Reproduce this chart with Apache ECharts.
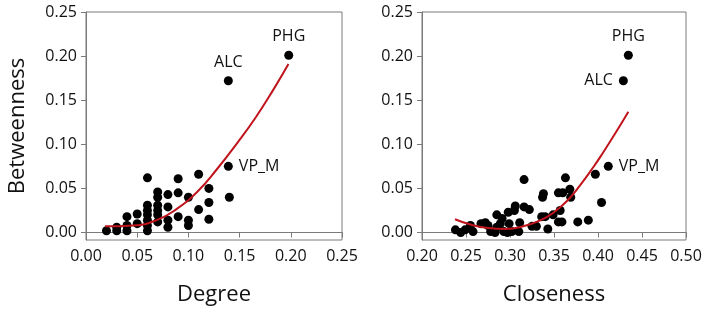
<!DOCTYPE html>
<html>
<head>
<meta charset="utf-8">
<script src="https://cdn.jsdelivr.net/npm/echarts@6/dist/echarts.min.js"></script>
<style>
html,body{margin:0;padding:0;background:#fff;}
#chart{width:709px;height:313px;}
</style>
</head>
<body>
<div id="chart"></div>
<script>
// ---- Data ----
const yTicks = [0, 0.05, 0.10, 0.15, 0.20, 0.25];
const degreeTicks = [0, 0.05, 0.10, 0.15, 0.20, 0.25];
const closenessTicks = [0.20, 0.25, 0.30, 0.35, 0.40, 0.45, 0.50];

// Labeled nodes
const nodeNames = ['PHG', 'ALC', 'VP_M'];
const nodeDegree = [0.198, 0.139, 0.139];
const nodeCloseness = [0.4345, 0.4288, 0.4117];
const nodeBetweenness = [0.201, 0.172, 0.075];

// Other nodes, left panel (Degree vs Betweenness)
const degreeX = [0.02, 0.03, 0.03, 0.04, 0.04, 0.04, 0.05, 0.05,
  0.06, 0.06, 0.06, 0.06, 0.06, 0.06, 0.06,
  0.07, 0.07, 0.07, 0.07, 0.07, 0.07,
  0.08, 0.08, 0.08, 0.08,
  0.09, 0.09, 0.09,
  0.10, 0.10, 0.10,
  0.11, 0.11,
  0.12, 0.12, 0.12,
  0.14];
const degreeBetw = [0.002, 0.002, 0.006, 0.002, 0.008, 0.018, 0.010, 0.021,
  0.062, 0.031, 0.025, 0.020, 0.014, 0.008, 0.002,
  0.046, 0.040, 0.031, 0.025, 0.020, 0.012,
  0.043, 0.029, 0.014, 0.006,
  0.061, 0.045, 0.018,
  0.040, 0.014, 0.008,
  0.066, 0.026,
  0.050, 0.034, 0.015,
  0.040];

// Other nodes, right panel (Closeness vs Betweenness)
const closenessX = [0.238, 0.244, 0.249, 0.255, 0.258, 0.267, 0.272, 0.275, 0.278, 0.283,
  0.285, 0.285, 0.289, 0.291, 0.293, 0.297, 0.298, 0.299, 0.302, 0.306,
  0.305, 0.310, 0.311, 0.316, 0.316, 0.322, 0.325, 0.330, 0.336, 0.337,
  0.338, 0.340, 0.343, 0.349, 0.355, 0.360, 0.357, 0.355, 0.359, 0.363,
  0.368, 0.369, 0.377, 0.389, 0.397, 0.404];
const closenessBetw = [0.003, 0.000, 0.003, 0.008, 0.001, 0.010, 0.011, 0.008, 0.001, 0.000,
  0.020, 0.006, 0.010, 0.016, 0.001, 0.000, 0.023, 0.010, 0.001, 0.030,
  0.025, 0.001, 0.011, 0.060, 0.029, 0.026, 0.007, 0.007, 0.018, 0.040,
  0.044, 0.018, 0.004, 0.020, 0.045, 0.045, 0.025, 0.012, 0.012, 0.062,
  0.049, 0.040, 0.012, 0.014, 0.066, 0.034];

// Fitted curves
const degreeFitX = [0.0186, 0.046, 0.069, 0.089, 0.1085, 0.128, 0.148, 0.166, 0.183, 0.1977];
const degreeFitY = [0.007, 0.008, 0.014, 0.027, 0.046, 0.072, 0.102, 0.131, 0.162, 0.191];
const closenessFitX = [0.2375, 0.255, 0.275, 0.295, 0.315, 0.335, 0.35, 0.365, 0.38, 0.395, 0.406, 0.42, 0.4345];
const closenessFitY = [0.015, 0.009, 0.005, 0.004, 0.007, 0.014, 0.023, 0.036, 0.054, 0.0745, 0.091, 0.113, 0.137];

// ---- Chart ----
const FONT = 'Open Sans';
const AX = '#7a7a7a';
const TXT = '#111111';
const leftPlacement = {PHG: 'top', ALC: 'top', VP_M: 'right'};
const rightPlacement = {PHG: 'top', ALC: 'left', VP_M: 'right'};

function zip(xs, ys) { return xs.map((x, i) => [x, ys[i]]); }

function nodeItems(xs, placement) {
  return nodeNames.map((n, i) => ({
    value: [xs[i], nodeBetweenness[i]],
    label: {
      show: true, formatter: n, position: placement[n], distance: 6,
      fontFamily: FONT, fontSize: 16, color: TXT, opacity: 1
    }
  }));
}

function xAxisCfg(gi, min, max, ticks, name) {
  return {
    type: 'value', gridIndex: gi, min: min, max: max,
    name: name, nameLocation: 'middle', nameGap: 44,
    nameTextStyle: {fontFamily: FONT, fontSize: 22, color: TXT},
    axisLine: {show: true, lineStyle: {color: AX, width: 1}},
    axisTick: {show: true, inside: false, length: 5, customValues: ticks, lineStyle: {color: AX}},
    axisLabel: {customValues: ticks, formatter: v => v.toFixed(2), fontFamily: FONT, fontSize: 16, color: TXT, margin: 8},
    splitLine: {show: false}
  };
}
function yAxisCfg(gi, name) {
  return {
    type: 'value', gridIndex: gi, min: -0.0085, max: 0.25,
    name: name, nameLocation: 'middle', nameGap: 57,
    nameTextStyle: {fontFamily: FONT, fontSize: 22, color: TXT},
    axisLine: {show: true, lineStyle: {color: AX, width: 1}},
    axisTick: {show: true, inside: false, length: 5, customValues: yTicks, lineStyle: {color: AX}},
    axisLabel: {customValues: yTicks, formatter: v => v.toFixed(2), fontFamily: FONT, fontSize: 16, color: TXT, margin: 9},
    splitLine: {show: false}
  };
}

const chart = echarts.init(document.getElementById('chart'), null, {renderer: 'canvas'});
const dotStyle = {color: '#000', opacity: 1};
const fitStyle = {color: '#c0141c', width: 2};

chart.setOption({
  animation: false,
  backgroundColor: '#fff',
  textStyle: {fontFamily: FONT},
  grid: [
    {left: 86, top: 12, width: 256, height: 228, show: true, borderColor: AX, borderWidth: 1, backgroundColor: 'transparent'},
    {left: 422, top: 12, width: 264, height: 228, show: true, borderColor: AX, borderWidth: 1, backgroundColor: 'transparent'}
  ],
  xAxis: [
    xAxisCfg(0, 0, 0.25, degreeTicks, 'Degree'),
    xAxisCfg(1, 0.20, 0.50, closenessTicks, 'Closeness')
  ],
  yAxis: [
    yAxisCfg(0, 'Betweenness'),
    yAxisCfg(1, '')
  ],
  series: [
    {type: 'scatter', xAxisIndex: 0, yAxisIndex: 0, symbolSize: 9, itemStyle: dotStyle, emphasis: {disabled: true},
     data: zip(degreeX, degreeBetw).concat(nodeItems(nodeDegree, leftPlacement)), z: 2},
    {type: 'line', xAxisIndex: 0, yAxisIndex: 0, smooth: true, showSymbol: false, symbol: 'none',
     lineStyle: fitStyle, data: zip(degreeFitX, degreeFitY), z: 3},
    {type: 'scatter', xAxisIndex: 1, yAxisIndex: 1, symbolSize: 9, itemStyle: dotStyle, emphasis: {disabled: true},
     data: zip(closenessX, closenessBetw).concat(nodeItems(nodeCloseness, rightPlacement)), z: 2},
    {type: 'line', xAxisIndex: 1, yAxisIndex: 1, smooth: true, showSymbol: false, symbol: 'none',
     lineStyle: fitStyle, data: zip(closenessFitX, closenessFitY), z: 3}
  ]
});
</script>
</body>
</html>
